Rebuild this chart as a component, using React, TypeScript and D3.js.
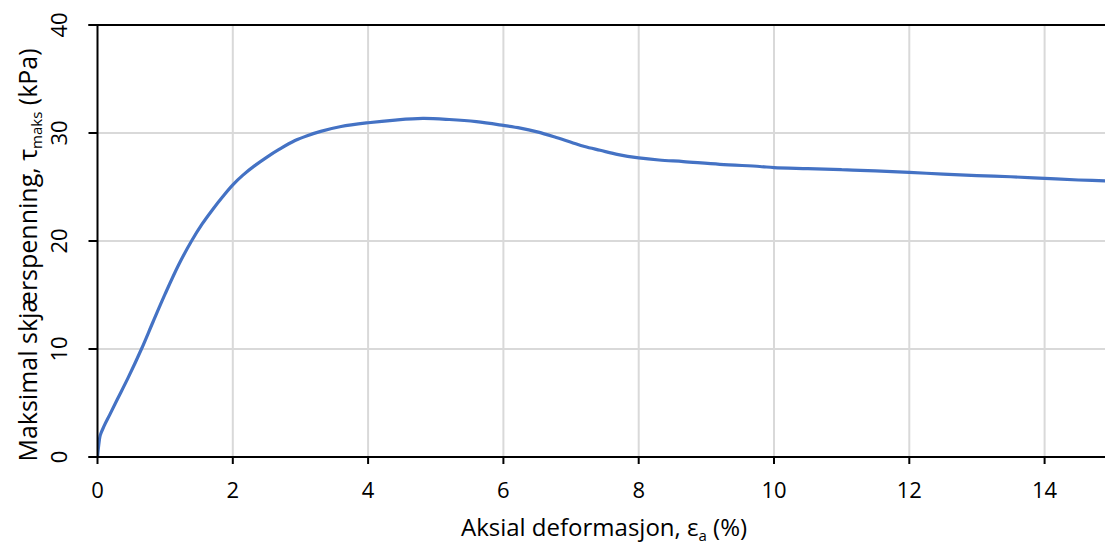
import React from "react";
import * as d3 from "d3";

const strainPct = [0, 0.02, 0.04, 0.1, 0.18, 0.29, 0.45, 0.65, 0.82, 1.0, 1.2, 1.39, 1.55, 1.7, 1.85, 2.0, 2.15, 2.33, 2.5, 2.69, 2.92, 3.1, 3.3, 3.6, 4.0, 4.4, 4.81, 5.2, 5.6, 6.0, 6.25, 6.5, 6.75, 7.0, 7.2, 7.43, 7.7, 8.0, 8.3, 8.66, 9.2, 9.79, 10.0, 10.5, 11.0, 11.5, 12.0, 12.5, 13.0, 13.5, 14.0, 14.5, 15.0];
const shearKPa = [0, 1.2, 2.0, 2.9, 3.9, 5.3, 7.3, 10.0, 12.5, 15.1, 17.8, 20.0, 21.6, 22.9, 24.1, 25.2, 26.1, 27.0, 27.75, 28.5, 29.3, 29.75, 30.15, 30.6, 30.95, 31.2, 31.35, 31.25, 31.05, 30.7, 30.45, 30.1, 29.65, 29.15, 28.75, 28.4, 28.0, 27.7, 27.5, 27.35, 27.1, 26.9, 26.8, 26.7, 26.6, 26.5, 26.35, 26.2, 26.05, 25.95, 25.8, 25.65, 25.55];

const xTicks = [0, 2, 4, 6, 8, 10, 12, 14];
const yTicks = [0, 10, 20, 30, 40];

const W = 1105;
const H = 550;
const FONT = "'Open Sans', Calibri, sans-serif";

export default function App() {
  const x = d3.scaleLinear().domain([0, 15]).range([97.5, 97.5 + 15 * 67.65]);
  const y = d3.scaleLinear().domain([0, 40]).range([457, 25]);
  const line = d3
    .line<number>()
    .x((_, i) => x(strainPct[i]))
    .y((d) => y(d))
    .curve(d3.curveCatmullRom.alpha(0.5));
  const x0 = x(0);
  const y0 = y(0);
  return (
    <svg
      width={W}
      height={H}
      style={{ position: "absolute", left: 0, top: 0, background: "#fff" }}
      fontFamily={FONT}
    >
      <defs>
        <clipPath id="plotclip">
          <rect x={x0} y={y(40) - 2} width={W - x0} height={y0 - y(40) + 4} />
        </clipPath>
      </defs>
      {xTicks
        .filter((t) => t > 0)
        .map((t) => (
          <line key={"gx" + t} x1={x(t)} x2={x(t)} y1={y(0)} y2={y(40)} stroke="#d9d9d9" strokeWidth={2} />
        ))}
      {yTicks
        .filter((t) => t > 0 && t < 40)
        .map((t) => (
          <line key={"gy" + t} x1={x0} x2={W} y1={y(t)} y2={y(t)} stroke="#d9d9d9" strokeWidth={2} />
        ))}
      <g clipPath="url(#plotclip)">
        <path d={line(shearKPa) || ""} fill="none" stroke="#4472C4" strokeWidth={3.2} strokeLinejoin="round" />
      </g>
      <line x1={x0 - 9} x2={W} y1={y(40)} y2={y(40)} stroke="#000" strokeWidth={2} />
      <line x1={x0} x2={x0} y1={y(40)} y2={y0} stroke="#000" strokeWidth={2} />
      <line x1={x0 - 9} x2={W} y1={y0} y2={y0} stroke="#000" strokeWidth={2} />
      {yTicks.map((t) => (
        <line key={"ty" + t} x1={x0 - 9} x2={x0} y1={y(t)} y2={y(t)} stroke="#000" strokeWidth={2} />
      ))}
      {xTicks.map((t) => (
        <line key={"tx" + t} x1={x(t)} x2={x(t)} y1={y0} y2={y0 + 7} stroke="#000" strokeWidth={2} />
      ))}
      {xTicks.map((t) => (
        <text key={"lx" + t} x={x(t)} y={498} textAnchor="middle" fontSize={22} fill="#000">
          {t}
        </text>
      ))}
      {yTicks.map((t) => (
        <text
          key={"ly" + t}
          transform={`translate(67,${y(t)}) rotate(-90)`}
          textAnchor="middle"
          fontSize={22}
          fill="#000"
        >
          {t}
        </text>
      ))}
      <text x={604} y={536} textAnchor="middle" fontSize={24} fill="#000">
        Aksial deformasjon, ε<tspan fontSize={15} dy={5}>a</tspan>
        <tspan dy={-5}> (%)</tspan>
      </text>
      <text transform={`translate(37,${(y(0) + y(40)) / 2 + 14}) rotate(-90)`} textAnchor="middle" fontSize={25} fill="#000">
        Maksimal skjærspenning, τ<tspan fontSize={15} dy={5}>maks</tspan>
        <tspan dy={-5}> (kPa)</tspan>
      </text>
    </svg>
  );
}
